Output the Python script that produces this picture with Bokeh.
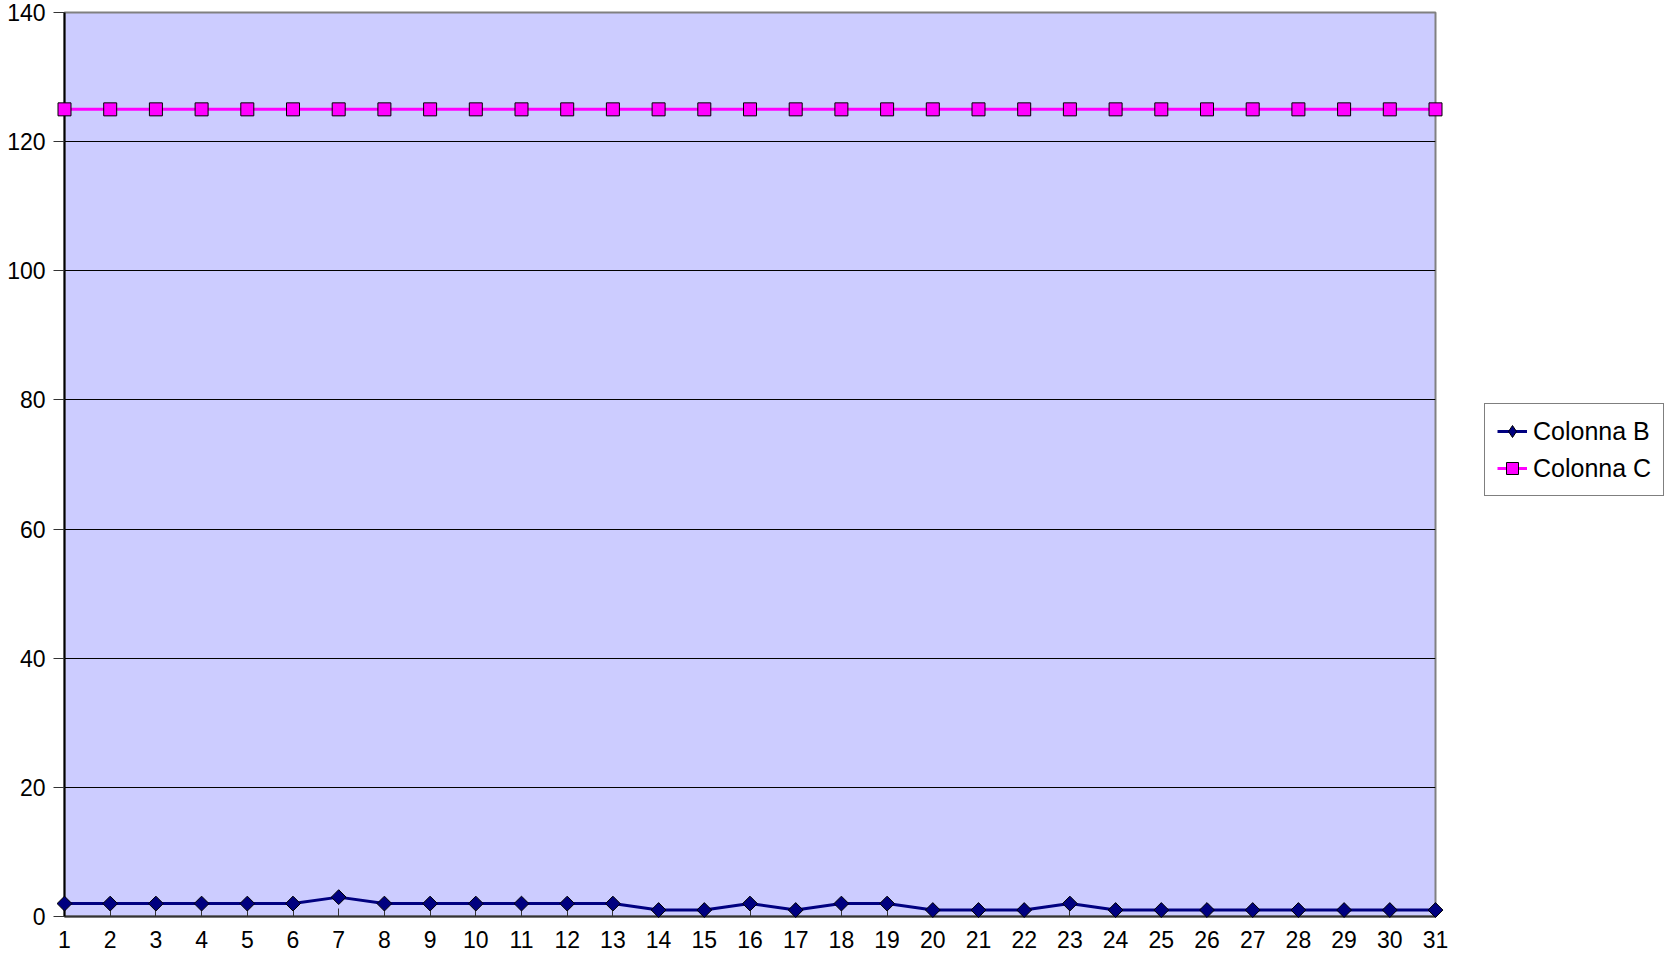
import math
from bokeh.plotting import figure
from bokeh.models import Range1d, FixedTicker, Legend, LegendItem, ColumnDataSource
from bokeh.embed import file_html
from bokeh.resources import INLINE

days = list(range(1, 32))
colonna_b = [2, 2, 2, 2, 2, 2, 3, 2, 2, 2, 2, 2, 2, 1, 1, 2, 1, 2, 2, 1, 1, 1, 2, 1, 1, 1, 1, 1, 1, 1, 1]
colonna_c = [125] * 31
y_ticks = [0, 20, 40, 60, 80, 100, 120, 140]

src = ColumnDataSource(dict(x=days, b=colonna_b, c=colonna_c))

p = figure(frame_width=1371, frame_height=904, output_backend="svg", toolbar_location=None,
           x_range=Range1d(1, 31), y_range=Range1d(0, 140),
           min_border_left=64, min_border_top=12, min_border_right=10, min_border_bottom=38)
p.background_fill_color = "#CCCCFF"
p.border_fill_color = "white"
p.outline_line_color = "#808080"
p.outline_line_width = 2

p.xgrid.visible = False
p.ygrid.grid_line_color = "black"
p.ygrid.grid_line_width = 1
p.ygrid.ticker = FixedTicker(ticks=y_ticks[1:-1])

p.xaxis.ticker = FixedTicker(ticks=days)
p.yaxis.ticker = FixedTicker(ticks=y_ticks)
for ax in (p.xaxis, p.yaxis):
    ax.major_label_text_font = "Liberation Sans"
    ax.major_label_text_font_size = "23px"
    ax.major_label_text_color = "black"
    ax.axis_line_width = 2
    ax.minor_tick_line_color = None
p.xaxis.axis_line_color = "#333333"
p.yaxis.axis_line_color = "black"
p.xaxis.major_tick_in = 8
p.xaxis.major_tick_out = 0
p.xaxis.major_tick_line_color = "#333333"
p.xaxis.major_label_standoff = 14
p.yaxis.major_tick_in = 0
p.yaxis.major_tick_out = 11
p.yaxis.major_tick_line_color = "#333333"
p.yaxis.major_label_standoff = 8

lb = p.line("x", "b", source=src, line_color="#000080", line_width=3, level="overlay")
mb = p.scatter("x", "b", source=src, marker="square", angle=math.pi / 4, size=10.5,
               fill_color="#000080", line_color="black", line_width=1, level="overlay")
lc = p.line("x", "c", source=src, line_color="#FF00FF", line_width=3, level="overlay")
mc = p.scatter("x", "c", source=src, marker="square", size=13, fill_color="#FF00FF",
               line_color="black", line_width=1, level="overlay")

# legend-only diamond glyph, placed far outside the visible ranges
far = ColumnDataSource(dict(x=[-1000], y=[-1000]))
kb = p.scatter("x", "y", source=far, marker="diamond", size=18,
               fill_color="#000080", line_color="black", line_width=1)

legend = Legend(items=[LegendItem(label="Colonna B", renderers=[lb, kb]),
                       LegendItem(label="Colonna C", renderers=[lc, mc])],
                location=(49, 420))
legend.label_text_font = "Liberation Sans"
legend.label_text_font_size = "25px"
legend.label_text_color = "black"
legend.glyph_width = 30
legend.glyph_height = 30
legend.label_standoff = 6
legend.spacing = 7
legend.padding = 12
legend.margin = 0
legend.border_line_color = "black"
legend.border_line_width = 1
legend.background_fill_color = "white"
p.add_layout(legend, "right")

open("out.html", "w").write(file_html(p, INLINE))
